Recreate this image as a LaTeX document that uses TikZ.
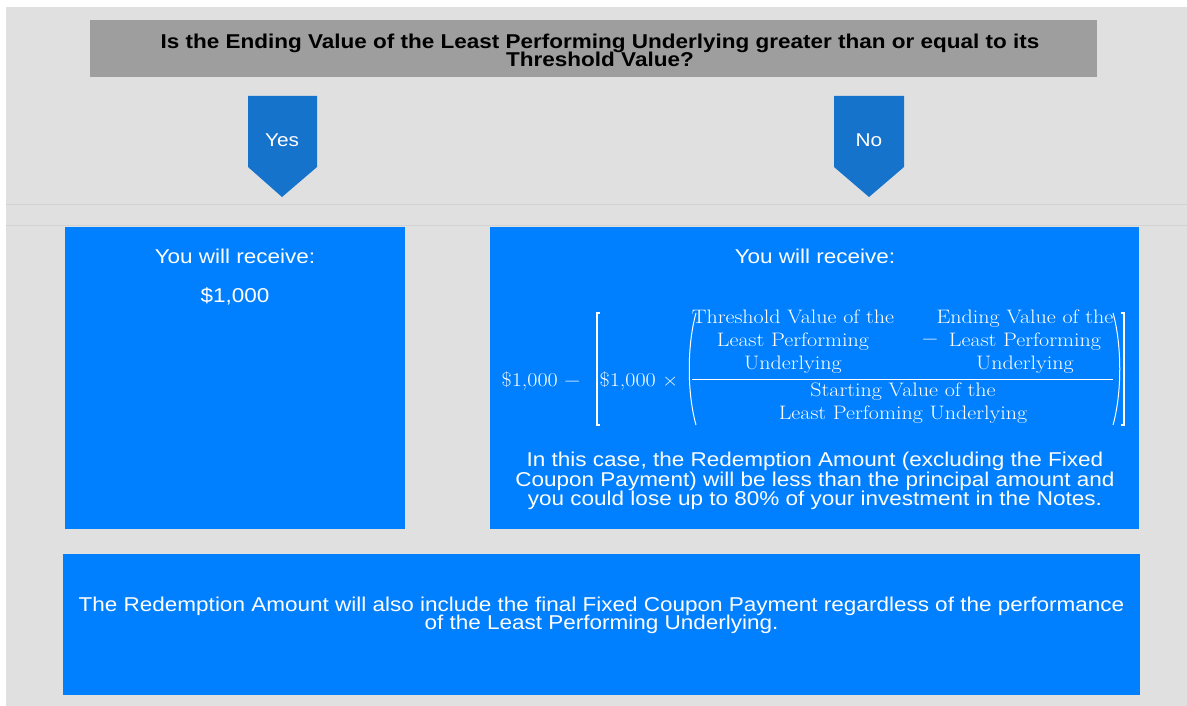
\documentclass[tikz,border=0pt]{standalone}
\usepackage{fontspec}
\setmainfont{Liberation Sans}
\newfontfamily\lmr{Latin Modern Roman}
\usepackage{graphicx}
\definecolor{bggray}{RGB}{224,224,224}
\definecolor{linegray}{RGB}{210,210,210}
\definecolor{qgray}{RGB}{158,158,158}
\definecolor{boxblue}{RGB}{0,128,255}
\definecolor{arrblue}{RGB}{22,115,204}
\newcommand{\wide}[2][1.125]{\scalebox{#1}[1]{\vbox{\lineskiplimit=-\maxdimen\let\\\cr\halign{\hfil##\hfil\cr#2\crcr}}}}
\newcommand{\fwide}[1]{\scalebox{1.13}[1]{#1}}
\newcommand{\blk}[1]{{\lmr\begin{tabular}{@{}c@{}}#1\end{tabular}}}
\tikzset{
  bluebox/.style={fill=boxblue, draw=none, inner sep=0pt},
  boxtext/.style={text=white, font=\fontsize{20}{19.5}\selectfont, inner sep=0pt},
  arrowlabel/.style={text=white, font=\fontsize{18.5}{20}\selectfont, inner sep=0pt},
  pentagon/.style={fill=arrblue, draw=none},
  ftext/.style={text=white, font=\fontsize{19.5}{23}\selectfont\lmr, inner sep=0pt},
  fdelim/.style={draw=white, line width=1.3pt},
}
\begin{document}
\begin{tikzpicture}[x=1pt,y=-1pt]
\useasboundingbox (0,0) rectangle (1187,706);
\fill[white] (0,0) rectangle (1187,706);
\fill[bggray] (6,7) rectangle (1187,706);
\draw[linegray, line width=1pt] (6,204.5) -- (1187,204.5);
\draw[linegray, line width=1pt] (6,225.5) -- (1187,225.5);

% question
\node[fill=qgray, minimum width=1007pt, minimum height=57pt, inner sep=0pt] (q) at (593.5,48.5) {};
\node[font=\fontsize{20}{18}\selectfont\bfseries, inner sep=0pt] (qt) at (600,50) {\wide{Is the Ending Value of the Least Performing Underlying greater than or equal to its\\Threshold Value?}};

% yes / no pentagons
\fill[pentagon] (248,96) -- (317,96) -- (317,167) -- (282,197) -- (248,167) -- cycle;
\node[arrowlabel] (yes) at (282,140) {\wide{Yes}};
\fill[pentagon] (834,96) -- (904,96) -- (904,167) -- (869,197) -- (834,167) -- cycle;
\node[arrowlabel] (no) at (869,140) {\wide{No}};

% left box
\node[bluebox, minimum width=340pt, minimum height=302pt] (left) at (235,378) {};
\node[boxtext] (lrec) at (235,256) {\wide{You will receive:}};
\node[boxtext] (lamt) at (235,296) {\wide{\$1,000}};

% right box
\node[bluebox, minimum width=649pt, minimum height=302pt] (right) at (814.5,378) {};
\node[boxtext] (rrec) at (815,256) {\wide{You will receive:}};

% formula
\node[ftext] (f1) at (541,381) {\fwide{\$1,000 −}};
\node[ftext] (f2) at (639,381) {\fwide{\$1,000 ×}};
\node[ftext] (num1) at (793,342) {\fwide{\blk{Threshold Value of the\\Least Performing\\Underlying}}};
\node[ftext] (minus) at (930,342) {\fwide{−}};
\node[ftext] (num2) at (1025,342) {\fwide{\blk{Ending Value of the\\Least Performing\\Underlying}}};
\node[ftext] (den) at (903,403) {\fwide{\blk{Starting Value of the\\Least Perfoming Underlying}}};
\coordinate (barl) at (692,379);
\coordinate (barr) at (1113,379);
\draw[white, line width=1pt] (barl) -- (barr);
% outer brackets
\coordinate (lbt) at (597,313); \coordinate (lbb) at (597,425);
\coordinate (rbt) at (1124,313); \coordinate (rbb) at (1124,425);
\draw[fdelim] ([xshift=3pt]lbt) -- (lbt) -- (lbb) -- ([xshift=3pt]lbb);
\draw[fdelim] ([xshift=-3pt]rbt) -- (rbt) -- (rbb) -- ([xshift=-3pt]rbb);
% parentheses
\coordinate (lpt) at (696,313); \coordinate (lpb) at (696,425);
\coordinate (rpt) at (1113,313); \coordinate (rpb) at (1113,425);
\draw[white, line width=1pt] (lpt) .. controls (687,345) and (687,393) .. (lpb);
\draw[white, line width=1pt] (rpt) .. controls (1122,345) and (1122,393) .. (rpb);

\node[boxtext] (rpar) at (815,481) {\wide{In this case, the Redemption Amount (excluding the Fixed\\Coupon Payment) will be less than the principal amount and\\you could lose up to 80\% of your investment in the Notes.}};

% bottom box
\node[bluebox, minimum width=1077pt, minimum height=141pt] (bottom) at (601.5,624.5) {};
\node[boxtext, font=\fontsize{20}{18}\selectfont] (btext) at (601.5,615.5) {\wide{The Redemption Amount will also include the final Fixed Coupon Payment regardless of the performance\\of the Least Performing Underlying.}};
\end{tikzpicture}
\end{document}
